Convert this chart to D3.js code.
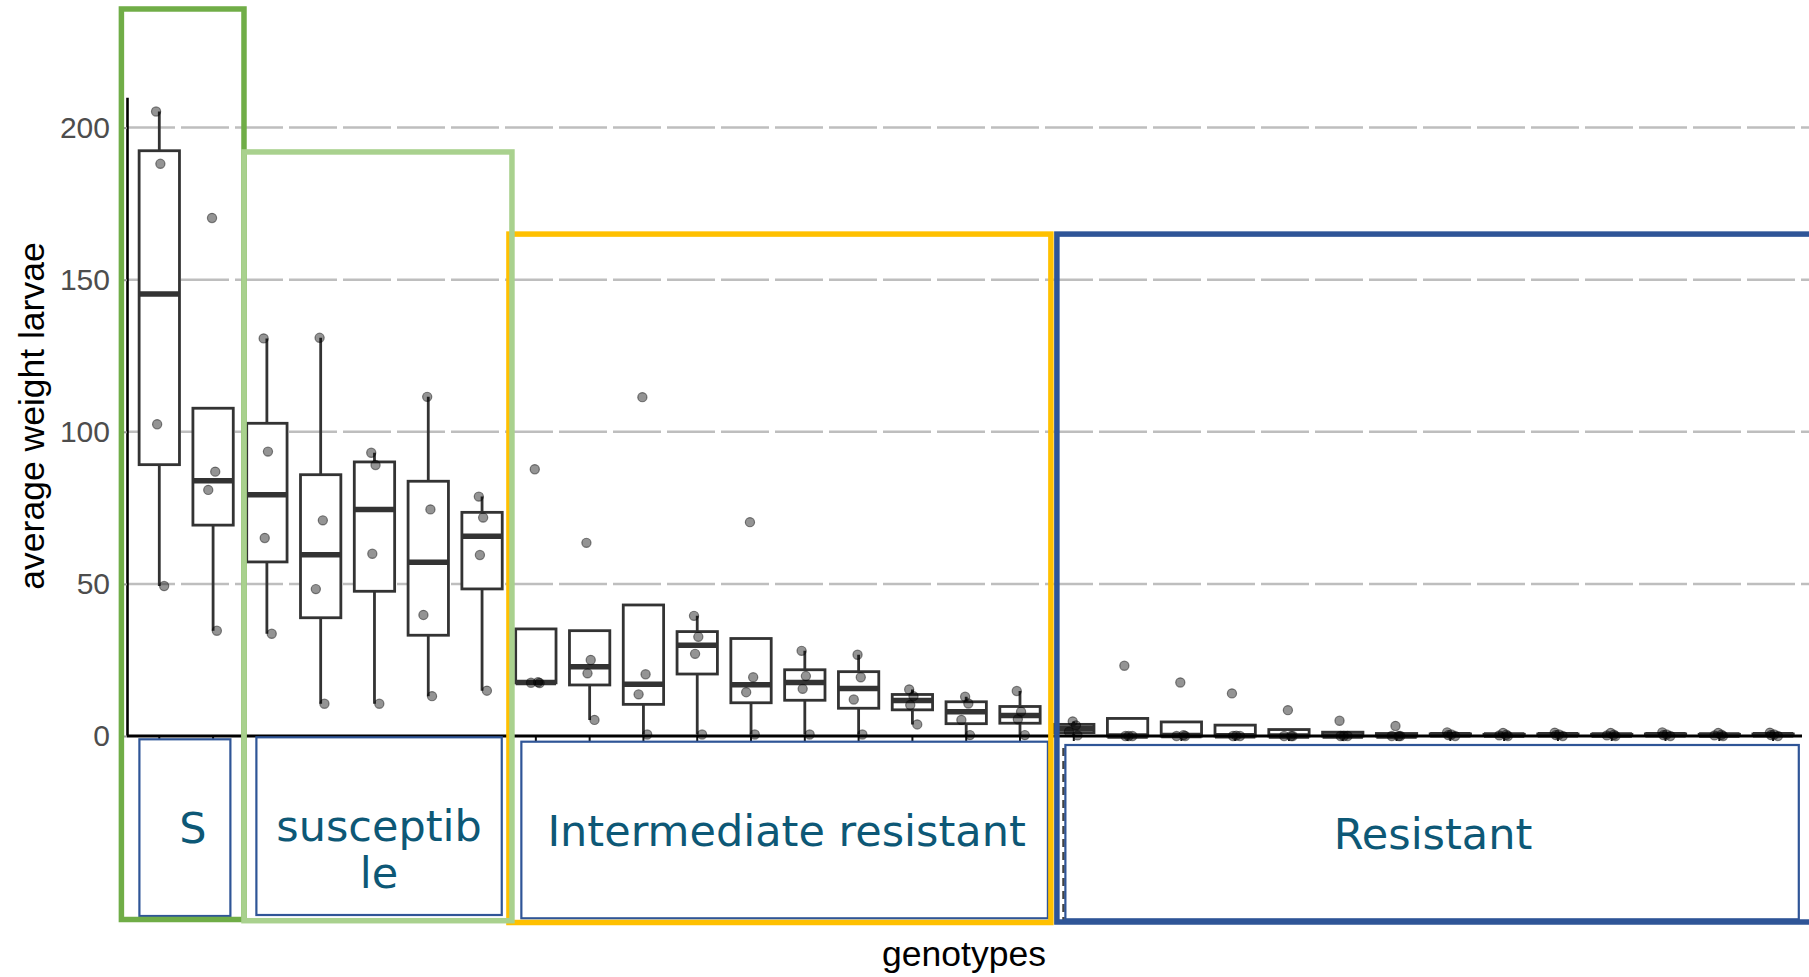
<!DOCTYPE html>
<html>
<head>
<meta charset="utf-8">
<script src="https://cdn.jsdelivr.net/npm/d3@7"></script>
<style>
  html, body { margin: 0; padding: 0; background: #fff; }
  svg { display: block; }
</style>
</head>
<body>
<div id="chart"></div>
<script>
// genotypes in x order (their names are hidden under the label boxes)
const genotypes = ["G01","G02","G03","G04","G05","G06","G07","G08","G09","G10",
  "G11","G12","G13","G14","G15","G16","G17","G18","G19","G20",
  "G21","G22","G23","G24","G25","G26","G27","G28","G29","G30","G31"];

// average larval weight, 4 replicates per genotype
const weights = [
  [49.3, 102.5, 188.1, 205.3],
  [34.6, 80.9, 86.9, 170.3],
  [33.6, 65.1, 93.5, 130.7],
  [10.6, 48.3, 70.9, 130.9],
  [10.6, 59.9, 89.1, 93.1],
  [13.1, 39.8, 74.5, 111.5],
  [14.9, 59.5, 71.8, 78.7],
  [17.4, 17.5, 17.7, 87.7],
  [5.3, 20.6, 25.0, 63.5],
  [0.5, 13.7, 20.3, 111.4],
  [0.5, 27.0, 32.6, 39.5],
  [0.5, 14.4, 19.3, 70.3],
  [0.5, 15.5, 19.7, 28.0],
  [0.5, 12.0, 19.3, 26.7],
  [3.8, 10.2, 13.1, 15.3],
  [0.3, 5.3, 10.7, 12.9],
  [0.3, 5.5, 8.0, 14.8],
  [0.2, 1.4, 3.5, 4.8],
  [0, 0, 0, 23.1],
  [0, 0, 0.3, 17.6],
  [0, 0, 0.1, 14.0],
  [0, 0, 0, 8.5],
  [0, 0, 0, 5.0],
  [0, 0, 0, 3.3],
  [0, 0.3, 0.5, 1.2],
  [0, 0.2, 0.4, 1.0],
  [0, 0.3, 0.5, 1.1],
  [0, 0.2, 0.4, 1.0],
  [0, 0.3, 0.5, 1.2],
  [0, 0.2, 0.4, 1.0],
  [0, 0.3, 0.5, 1.1]
];

const yTicks = [0, 50, 100, 150, 200];

// resistance groups drawn over the plot
const groupLines = [["S"], ["susceptib", "le"], ["Intermediate resistant"], ["Resistant"]];
const groupFirst = [0, 2, 7, 17];
const groupLast = [1, 6, 16, 30];
const groupTop = [239, 192, 165, 165];   // frame tops, in y units
const groupColor = ["#70ad47", "#a9d18e", "#ffc000", "#2f5597"];

{
  const width = 1809, height = 977;

  const svg = d3.select("#chart").append("svg")
    .attr("width", width)
    .attr("height", height);

  // scales
  const x = d3.scaleBand()
    .domain(genotypes)
    .range([132.4, 1800]);
  const bw = x.step() * 0.75;
  const cx = i => x(genotypes[i]) + x.bandwidth() / 2;

  const y = d3.scaleLinear()
    .domain([0, 210])
    .range([736, 97.2]);

  // box stats like R (type 7 quantiles, 1.5 IQR whiskers)
  function stats(v) {
    const s = v.slice().sort(d3.ascending);
    const q1 = d3.quantile(s, 0.25), med = d3.quantile(s, 0.5), q3 = d3.quantile(s, 0.75);
    const iqr = q3 - q1;
    const inside = s.filter(d => d >= q1 - 1.5 * iqr && d <= q3 + 1.5 * iqr);
    return {q1: q1, med: med, q3: q3, lo: d3.min(inside), hi: d3.max(inside)};
  }
  const boxes = weights.map((v, i) => Object.assign({i: i}, stats(v)));

  // dashed grid
  svg.append("g")
    .selectAll("line")
    .data(yTicks.filter(d => d > 0))
    .enter().append("line")
    .attr("x1", 127).attr("x2", width)
    .attr("y1", d => y(d)).attr("y2", d => y(d))
    .attr("stroke", "#bebebe")
    .attr("stroke-width", 2.5)
    .attr("stroke-dasharray", "48,6");

  const plot = svg.append("g");

  // whiskers
  plot.selectAll(".whisker")
    .data(boxes)
    .enter().append("path")
    .attr("class", "whisker")
    .attr("d", d => "M" + cx(d.i) + "," + y(d.q3) + "V" + y(d.hi) +
                    "M" + cx(d.i) + "," + y(d.q1) + "V" + y(d.lo))
    .attr("stroke", "#333")
    .attr("stroke-width", 2.8)
    .attr("fill", "none");

  // boxes
  plot.selectAll(".box")
    .data(boxes)
    .enter().append("rect")
    .attr("class", "box")
    .attr("x", d => cx(d.i) - bw / 2)
    .attr("width", bw)
    .attr("y", d => y(d.q3))
    .attr("height", d => y(d.q1) - y(d.q3))
    .attr("fill", "#fff")
    .attr("stroke", "#333")
    .attr("stroke-width", 2.8);

  // medians
  plot.selectAll(".median")
    .data(boxes)
    .enter().append("line")
    .attr("class", "median")
    .attr("x1", d => cx(d.i) - bw / 2)
    .attr("x2", d => cx(d.i) + bw / 2)
    .attr("y1", d => y(d.med))
    .attr("y2", d => y(d.med))
    .attr("stroke", "#333")
    .attr("stroke-width", 5.5);

  // jittered replicate points (fixed small offsets)
  const jit = [0.09, -0.04, 0.02, -0.06, 0.07, -0.09, 0.04, -0.02];
  const pts = [];
  weights.forEach((v, i) => v.forEach((w, j) => pts.push({i: i, w: w, k: i * 4 + j})));
  plot.selectAll(".pt")
    .data(pts)
    .enter().append("circle")
    .attr("class", "pt")
    .attr("cx", d => cx(d.i) + jit[d.k % jit.length] * x.step())
    .attr("cy", d => y(d.w))
    .attr("r", 4.6)
    .attr("fill", "#000")
    .attr("fill-opacity", 0.42)
    .attr("stroke", "#000")
    .attr("stroke-opacity", 0.45)
    .attr("stroke-width", 1.2);

  // x axis: ticks only, labels are covered
  const xAxis = svg.append("g")
    .attr("transform", "translate(0," + y(0) + ")")
    .call(d3.axisBottom(x).tickSize(5).tickSizeOuter(0).tickFormat(""));
  xAxis.select(".domain").remove();
  xAxis.selectAll(".tick line").attr("stroke", "#111").attr("stroke-width", 2);
  svg.append("line")
    .attr("x1", 127).attr("x2", 1802)
    .attr("y1", y(0)).attr("y2", y(0))
    .attr("stroke", "#000")
    .attr("stroke-width", 3);

  // y axis
  const yAxis = svg.append("g")
    .attr("transform", "translate(127,0)")
    .call(d3.axisLeft(y).tickValues(yTicks).tickSize(4).tickSizeOuter(0).tickPadding(13));
  yAxis.select(".domain").attr("stroke", "#000").attr("stroke-width", 2.6);
  yAxis.selectAll(".tick line").attr("stroke", "#999").attr("stroke-width", 2);
  yAxis.selectAll(".tick text")
    .attr("fill", "#4d4d4d")
    .style("font-family", "'Liberation Sans', Arial, sans-serif")
    .style("font-size", "30px");

  // axis titles
  svg.append("text")
    .attr("transform", "translate(44,416) rotate(-90)")
    .attr("text-anchor", "middle")
    .style("font-family", "'Liberation Sans', Arial, sans-serif")
    .style("font-size", "35.5px")
    .attr("fill", "#000")
    .text("average weight larvae");

  svg.append("text")
    .attr("x", 964).attr("y", 966)
    .attr("text-anchor", "middle")
    .style("font-family", "'Liberation Sans', Arial, sans-serif")
    .style("font-size", "35.5px")
    .attr("fill", "#000")
    .text("genotypes");

  // group label boxes
  const bandL = g => x(genotypes[groupFirst[g]]);
  const bandR = g => x(genotypes[groupLast[g]]) + x.step();
  const labInL = [7, 16.4, 12.4, 18.5], labInR = [-9.6, -7.2, 1, -1.2];
  const labTop = [739.3, 737.3, 741.7, 745], labBot = [916, 915, 918.3, 919.3];
  const labDx = [8, 0, 2, 1];

  // remnant of a hidden tick label left of the Resistant box
  svg.append("line")
    .attr("x1", 1063.5).attr("x2", 1063.5)
    .attr("y1", 748).attr("y2", 920)
    .attr("stroke", "#444")
    .attr("stroke-width", 2.5)
    .attr("stroke-dasharray", "8,5");

  const labs = svg.append("g").selectAll("g")
    .data(groupLines)
    .enter().append("g");
  labs.append("rect")
    .attr("x", (d, g) => bandL(g) + labInL[g])
    .attr("width", (d, g) => bandR(g) + labInR[g] - bandL(g) - labInL[g])
    .attr("y", (d, g) => labTop[g])
    .attr("height", (d, g) => labBot[g] - labTop[g])
    .attr("fill", "#fff")
    .attr("stroke", "#2f5597")
    .attr("stroke-width", 2.2);
  labs.append("text")
    .attr("text-anchor", "middle")
    .style("font-family", "'DejaVu Sans', Verdana, sans-serif")
    .style("font-size", "43px")
    .attr("fill", "#0d5876")
    .each(function(d, g) {
      const mid = (bandL(g) + labInL[g] + bandR(g) + labInR[g]) / 2 + labDx[g];
      d3.select(this).selectAll("tspan")
        .data(d)
        .enter().append("tspan")
        .attr("x", mid)
        .attr("y", (s, k) => labTop[g] + 104 + k * 47)
        .text(s => s);
    });

  // coloured group frames
  const frameL = [-11, 4, 0, 10], frameR = [4, 3, 4, 20];
  const frameBot = [919.5, 920.7, 922.5, 922];
  const order = [0, 2, 3, 1];   // light green sits on top
  svg.append("g").selectAll("rect")
    .data(order)
    .enter().append("rect")
    .attr("x", g => bandL(g) + frameL[g])
    .attr("width", g => bandR(g) + frameR[g] - bandL(g) - frameL[g])
    .attr("y", g => y(groupTop[g]))
    .attr("height", g => frameBot[g] - y(groupTop[g]))
    .attr("fill", "none")
    .attr("stroke", g => groupColor[g])
    .attr("stroke-width", 5.5);
}
</script>
</body>
</html>
